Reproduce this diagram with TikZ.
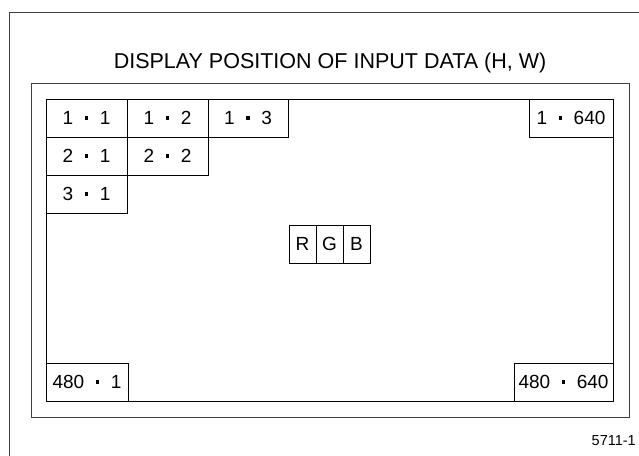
\documentclass[tikz,border=0pt]{standalone}
\usepackage{fontspec}
\setmainfont{Liberation Sans}
\usetikzlibrary{positioning}
\newcommand{\hwdot}{\hspace{11.5pt}\rule[5pt]{3.5pt}{3.5pt}\hspace{11.5pt}}
\tikzset{
  frame/.style={draw=black!75,line width=1pt},
  cell/.style={draw,line width=0.9pt,inner sep=0pt,outer sep=0pt,minimum width=81pt,minimum height=38pt,font=\fontsize{19}{19}\selectfont},
  sub/.style={cell,minimum width=27pt},
}
\begin{document}
\begin{tikzpicture}[x=1pt,y=-1pt]
  \useasboundingbox(0,0) rectangle (639,455);
  \clip(0,0) rectangle (639,455);
  % frames
  \draw[frame](9.5,470)--(9.5,12.5)--(660,12.5);
  \draw[frame](31,83) rectangle (629,417);
  \node[draw,line width=1pt,inner sep=0pt,outer sep=0pt,minimum width=567pt,minimum height=302pt,anchor=north west](screen) at (46,99) {};
  \node[anchor=base](title) at (330,68) {\fontsize{21.5}{21.5}\selectfont DISPLAY POSITION OF INPUT DATA (H, W)};
  % pixels
  \node[cell,anchor=north west](p11) at (screen.north west) {1\hwdot1};
  \node[cell,right=0pt of p11](p12) {1\hwdot2};
  \node[cell,right=0pt of p12,minimum width=80pt](p13) {1\hwdot3};
  \node[cell,below=0pt of p11](p21) {2\hwdot1};
  \node[cell,right=0pt of p21](p22) {2\hwdot2};
  \node[cell,below=0pt of p21](p31) {3\hwdot1};
  \node[cell,anchor=north east,minimum width=84pt](p1640) at (screen.north east) {1\hwdot640};
  \node[cell,anchor=south west,minimum width=82pt](p4801) at (screen.south west) {480\hwdot1};
  \node[cell,anchor=south east,minimum width=99pt](p480640) at (screen.south east) {480\hwdot640};
  % one pixel
  \node[sub,anchor=north west](R) at (289,225) {R};
  \node[sub,right=0pt of R](G) {G};
  \node[sub,right=0pt of G](B) {B};
  \node[anchor=base east,inner sep=0pt,font=\fontsize{14.5}{14.5}\selectfont](tag) at (636,445) {5711-1};
\end{tikzpicture}
\end{document}
